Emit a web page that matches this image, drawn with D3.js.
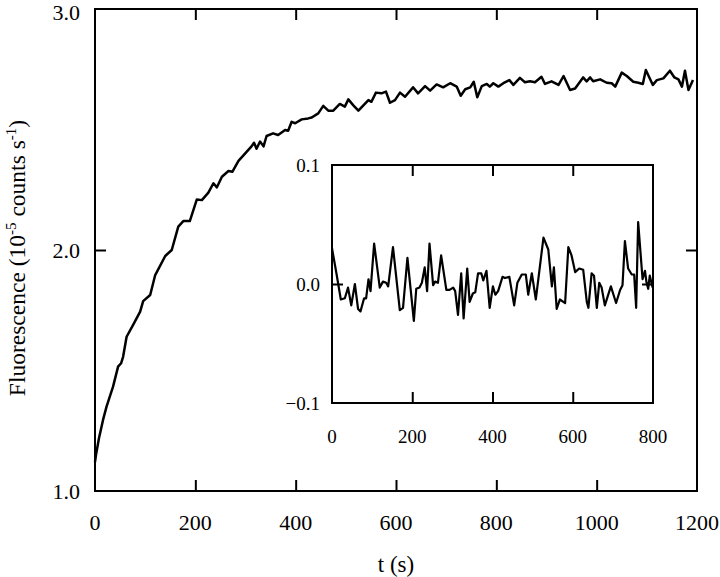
<!DOCTYPE html>
<html>
<head>
<meta charset="utf-8">
<script src="https://cdn.jsdelivr.net/npm/d3@7"></script>
<style>
  html, body { margin: 0; padding: 0; background: #fff; }
  svg { display: block; }
  svg text { font-family: "Liberation Serif", "Times New Roman", Times, "DejaVu Serif", serif; fill: #000; }
</style>
</head>
<body>
<svg id="chart" width="720" height="577"></svg>
<script>
// ---- Main trace: time (s) and fluorescence (1e-5 counts/s) ----
const mainT = [0, 2, 8, 16, 23, 36, 46, 52, 56, 63, 76, 90, 96, 110, 120, 140, 153, 166, 176, 189, 203, 213, 226, 236, 243, 253, 266, 274, 286, 299, 312, 317, 322, 329, 336, 342, 355, 365, 379, 385, 392, 399, 412, 425, 432, 445, 455, 465, 475, 488, 498, 505, 515, 525, 545, 551, 560, 571, 580, 588, 598, 608, 618, 634, 644, 658, 668, 681, 694, 708, 721, 729, 738, 748, 755, 762, 771, 781, 787, 794, 804, 814, 826, 834, 847, 857, 867, 877, 890, 897, 910, 924, 934, 947, 957, 973, 980, 987, 993, 1007, 1020, 1030, 1037, 1050, 1060, 1073, 1083, 1092, 1098, 1112, 1120, 1133, 1146, 1155, 1163, 1170, 1176, 1183, 1192];
const mainF = [1.12, 1.15, 1.22, 1.295, 1.35, 1.433, 1.516, 1.53, 1.557, 1.64, 1.689, 1.744, 1.788, 1.813, 1.896, 1.975, 2.0, 2.097, 2.12, 2.12, 2.21, 2.207, 2.238, 2.277, 2.26, 2.304, 2.328, 2.325, 2.37, 2.40, 2.43, 2.445, 2.42, 2.45, 2.43, 2.473, 2.484, 2.477, 2.498, 2.495, 2.532, 2.526, 2.542, 2.546, 2.55, 2.567, 2.598, 2.578, 2.578, 2.606, 2.595, 2.625, 2.60, 2.578, 2.622, 2.615, 2.653, 2.65, 2.657, 2.611, 2.622, 2.653, 2.636, 2.675, 2.65, 2.68, 2.661, 2.687, 2.675, 2.692, 2.678, 2.64, 2.667, 2.675, 2.698, 2.634, 2.68, 2.689, 2.678, 2.692, 2.678, 2.692, 2.705, 2.685, 2.714, 2.696, 2.70, 2.696, 2.719, 2.689, 2.70, 2.685, 2.722, 2.664, 2.67, 2.716, 2.70, 2.716, 2.70, 2.708, 2.694, 2.692, 2.678, 2.736, 2.722, 2.698, 2.694, 2.689, 2.747, 2.685, 2.705, 2.712, 2.744, 2.716, 2.708, 2.678, 2.744, 2.664, 2.705];

// ---- Inset: residuals ----
const resT = [0, 11, 22, 32, 40, 48, 57, 65, 71, 80, 85, 91, 96, 105, 119, 127, 135, 140, 152, 169, 177, 188, 204, 210, 218, 224, 231, 237, 243, 252, 257, 264, 272, 285, 293, 302, 307, 314, 322, 328, 337, 343, 351, 357, 364, 372, 377, 385, 393, 401, 407, 414, 425, 431, 442, 454, 462, 473, 483, 489, 498, 508, 527, 539, 548, 553, 560, 568, 581, 589, 597, 606, 616, 626, 635, 639, 647, 653, 660, 666, 672, 680, 695, 708, 718, 724, 730, 738, 747, 753, 758, 763, 774, 780, 784, 788, 792, 799];
const resV = [0.030, 0.009, -0.013, -0.012, -0.003, -0.018, 0.0, -0.021, -0.023, -0.012, -0.012, 0.004, -0.006, 0.034, -0.003, 0.002, 0.001, -0.002, 0.031, -0.022, -0.020, 0.022, -0.031, -0.004, -0.003, 0.001, 0.014, -0.006, 0.034, -0.001, 0.002, 0.001, 0.024, -0.005, -0.005, -0.003, -0.006, -0.026, 0.009, -0.029, 0.013, -0.015, -0.008, -0.007, 0.009, 0.009, 0.003, 0.011, -0.020, -0.002, -0.009, -0.006, 0.006, 0.005, 0.006, -0.018, 0.001, 0.008, 0.008, -0.009, 0.009, -0.013, 0.039, 0.029, -0.002, 0.014, -0.021, -0.013, -0.016, 0.031, 0.024, 0.010, 0.013, 0.012, -0.015, -0.020, 0.009, 0.007, -0.020, 0.001, -0.003, -0.018, -0.002, -0.016, -0.005, -0.001, 0.036, 0.013, 0.008, 0.008, -0.020, 0.052, 0.004, 0.011, 0.001, -0.004, 0.007, -0.003];

// ---- Ticks ----
const mainXTickLabels = [0, 200, 400, 600, 800, 1000, 1200];
const mainYTickLabels = [1.0, 2.0, 3.0];
const insetXTickLabels = [0, 200, 400, 600, 800];
const insetYTickLabels = [-0.1, 0.0, 0.1];

const FONT = '"Liberation Serif", "Times New Roman", Times, "DejaVu Serif", serif';
const svg = d3.select("#chart");

// Main scales
const M = { left: 95, right: 697, top: 9, bottom: 491 };
const x = d3.scaleLinear().domain([0, 1200]).range([M.left, M.right]);
const y = d3.scaleLinear().domain([1.0, 3.0]).range([M.bottom, M.top]);

// Inset scales
const I = { left: 332, right: 653, top: 165, bottom: 403 };
const xi = d3.scaleLinear().domain([0, 800]).range([I.left, I.right]);
const yi = d3.scaleLinear().domain([-0.1, 0.1]).range([I.bottom, I.top]);

const TL = 11;
const fmt1 = d3.format(".1f");

function ticks(g, axis, pos) {
  g.append("g").attr("transform", pos)
    .call(axis.tickSize(-TL).tickFormat(""))
    .call(s => s.select(".domain").remove())
    .call(s => s.selectAll("line").attr("stroke-width", 2));
}

// --- main frame and ticks ---
const gm = svg.append("g");
gm.append("rect").attr("x", M.left).attr("y", M.top)
  .attr("width", M.right - M.left).attr("height", M.bottom - M.top)
  .attr("fill", "none").attr("stroke", "#000").attr("stroke-width", 2);

const innerX = mainXTickLabels.filter(d => d > 0 && d < 1200);
const innerY = mainYTickLabels.filter(d => d > 1.0 && d < 3.0);
ticks(gm, d3.axisBottom(x).tickValues(innerX), `translate(0,${M.bottom})`);
ticks(gm, d3.axisTop(x).tickValues(innerX), `translate(0,${M.top})`);
ticks(gm, d3.axisLeft(y).tickValues(innerY), `translate(${M.left},0)`);
ticks(gm, d3.axisRight(y).tickValues(innerY), `translate(${M.right},0)`);

// main tick labels
gm.selectAll(".xl").data(mainXTickLabels).join("text")
  .attr("font-family", FONT)
  .attr("x", d => x(d)).attr("y", 530)
  .attr("text-anchor", "middle")
  .attr("font-size", 22).text(d => d);
gm.selectAll(".yl").data(mainYTickLabels).join("text")
  .attr("font-family", FONT)
  .attr("x", 80).attr("y", d => Math.max(y(d), 12) + 7.5)
  .attr("text-anchor", "end")
  .attr("font-size", 22).text(d => fmt1(d));

// axis titles
svg.append("text").attr("font-family", FONT)
  .attr("x", 396).attr("y", 572)
  .attr("text-anchor", "middle")
  .attr("font-size", 23).text("t (s)");

const yt = svg.append("text").attr("font-family", FONT)
  .attr("transform", "translate(25,258) rotate(-90)")
  .attr("text-anchor", "middle").attr("font-size", 23.5);
yt.append("tspan").text("Fluorescence (10");
yt.append("tspan").attr("dy", -9).attr("font-size", 15).text("-5");
yt.append("tspan").attr("dy", 9).text(" counts s");
yt.append("tspan").attr("dy", -9).attr("font-size", 15).text("-1");
yt.append("tspan").attr("dy", 9).text(")");

// main line
const lineMain = d3.line().x((d, i) => x(mainT[i])).y(d => y(d));
svg.append("path").datum(mainF)
  .attr("d", lineMain).attr("fill", "none")
  .attr("stroke", "#000").attr("stroke-width", 2.5).attr("stroke-linejoin", "round");

// --- inset ---
const gi = svg.append("g");
gi.append("rect").attr("x", I.left).attr("y", I.top)
  .attr("width", I.right - I.left).attr("height", I.bottom - I.top)
  .attr("fill", "#fff").attr("stroke", "#000").attr("stroke-width", 2);

const innerXi = insetXTickLabels.filter(d => d > 0 && d < 800);
const innerYi = insetYTickLabels.filter(d => d > -0.1 && d < 0.1);
ticks(gi, d3.axisBottom(xi).tickValues(innerXi), `translate(0,${I.bottom})`);
ticks(gi, d3.axisTop(xi).tickValues(innerXi), `translate(0,${I.top})`);
ticks(gi, d3.axisLeft(yi).tickValues(innerYi), `translate(${I.left},0)`);
ticks(gi, d3.axisRight(yi).tickValues(innerYi), `translate(${I.right},0)`);

gi.selectAll(".xil").data(insetXTickLabels).join("text")
  .attr("font-family", FONT)
  .attr("x", d => xi(d)).attr("y", 443)
  .attr("text-anchor", "middle")
  .attr("font-size", 19).text(d => d);
gi.selectAll(".yil").data(insetYTickLabels).join("text")
  .attr("font-family", FONT)
  .attr("x", 320).attr("y", d => yi(d) + 6.5)
  .attr("text-anchor", "end")
  .attr("font-size", 19).text(d => fmt1(d));

const lineRes = d3.line().x((d, i) => xi(resT[i])).y(d => yi(d));
gi.append("path").datum(resV)
  .attr("d", lineRes).attr("fill", "none")
  .attr("stroke", "#000").attr("stroke-width", 2.2).attr("stroke-linejoin", "round");
</script>
</body>
</html>
